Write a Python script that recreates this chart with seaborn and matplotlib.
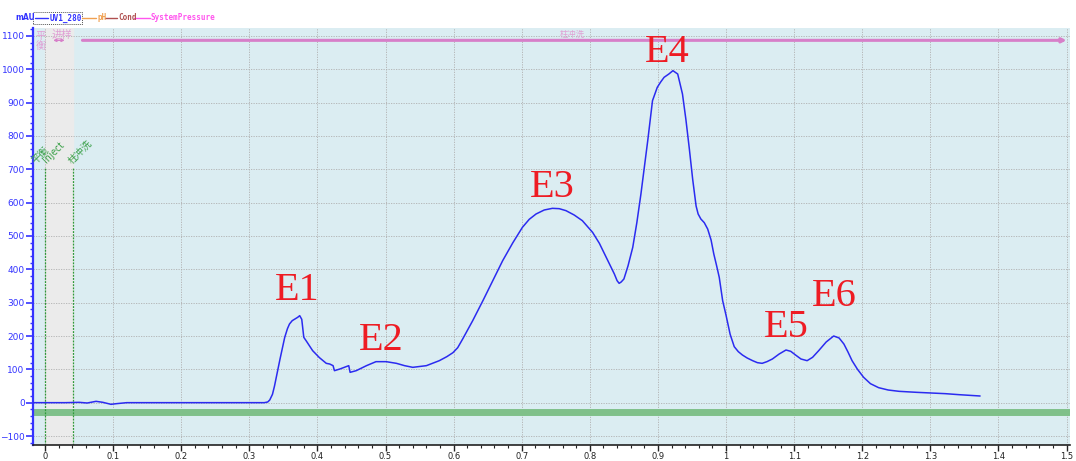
import numpy as np
import pandas as pd
import matplotlib
matplotlib.use("Agg")
import matplotlib.pyplot as plt
from matplotlib.ticker import MultipleLocator
import seaborn as sns

# UV absorbance trace (mAU) against elution volume
volume = [-0.018, 0.0, 0.03, 0.05, 0.062, 0.075, 0.085, 0.097, 0.105, 0.12, 0.2, 0.3,
          0.322, 0.327, 0.330, 0.334, 0.337, 0.341, 0.345, 0.349, 0.352, 0.356, 0.359,
          0.363, 0.367, 0.371, 0.374, 0.377, 0.380, 0.384,
          0.393, 0.403, 0.413, 0.418, 0.423, 0.425, 0.433, 0.442, 0.446, 0.448, 0.457,
          0.472, 0.486, 0.501, 0.516, 0.528, 0.540, 0.560, 0.579, 0.590, 0.599, 0.606,
          0.613, 0.628, 0.643, 0.658, 0.672, 0.687,
          0.701, 0.711, 0.721, 0.733, 0.745, 0.755, 0.765, 0.777, 0.789, 0.804, 0.814,
          0.824, 0.836, 0.840, 0.843, 0.846, 0.850, 0.856, 0.863, 0.869,
          0.875, 0.880, 0.885, 0.892, 0.899, 0.904, 0.909, 0.916, 0.922, 0.929, 0.936,
          0.941, 0.946, 0.951, 0.956, 0.959, 0.963, 0.968, 0.973, 0.978, 0.982, 0.986,
          0.990, 0.995, 1.000, 1.006, 1.012, 1.018, 1.024, 1.031, 1.039, 1.046, 1.053,
          1.060, 1.068, 1.078, 1.088, 1.095, 1.102, 1.110, 1.119, 1.127, 1.136, 1.147,
          1.158, 1.166, 1.173, 1.179, 1.185, 1.193, 1.202, 1.212, 1.224, 1.238, 1.254,
          1.280, 1.302, 1.322, 1.342, 1.373]
uv280 = [0, 0, 0, 1, -1, 4, 1, -5, -3, 0, 0, 0,
         0, 2, 8, 25, 50, 90, 130, 168, 196, 222, 236,
         246, 251, 256, 261, 250, 196, 184,
         156, 135, 118, 116, 111, 96, 101, 108, 111, 91, 96,
         111, 123, 123, 118, 111, 106, 111, 126, 138, 150, 165,
         190, 246, 306, 368, 426, 480,
         526, 550, 566, 578, 583, 582, 576, 563, 546, 511, 478,
         436, 386, 366, 358, 362, 371, 410, 466, 540,
         626, 706, 786, 906, 946, 962, 976, 986, 996, 986, 926,
         850, 763, 670, 590, 566, 551, 540, 521, 488, 446, 412,
         376, 306, 262, 205, 168, 153, 143, 134, 126, 120, 118,
         123, 131, 146, 158, 154, 143, 131, 126, 136, 156, 182,
         200, 194, 176, 152, 126, 100, 76, 57, 45, 38, 34,
         31, 29, 27, 24, 20]

# Fraction labels and where they sit
peak_names = ["E1", "E2", "E3", "E4", "E5", "E6"]
peak_x = [0.370, 0.493, 0.745, 0.913, 1.088, 1.159]
peak_y = [335, 185, 645, 1050, 225, 320]

# Run-log events
event_names = ["平衡", "Inject", "柱冲洗"]
event_x = [-0.012, 0.004, 0.042]
event_lines = [0.0, 0.041]

x_ticks = [0, 0.1, 0.2, 0.3, 0.4, 0.5, 0.6, 0.7, 0.8, 0.9, 1, 1.1, 1.2, 1.3, 1.4, 1.5]
x_tick_labels = ["0", "0.1", "0.2", "0.3", "0.4", "0.5", "0.6", "0.7", "0.8", "0.9",
                 "1", "1.1", "1.2", "1.3", "1.4", "1.5"]
y_ticks = list(range(-100, 1101, 100))

df = pd.DataFrame({"volume": volume, "mAU": uv280})

sns.set_theme(style="white")
plt.rcParams["font.family"] = ["DejaVu Sans", "Noto Sans CJK SC"]

fig = plt.figure(figsize=(10.76, 4.61), dpi=100)
ax = fig.add_axes([33 / 1076, 1 - 445 / 461, (1070 - 33) / 1076, (445 - 28) / 461])
ax.set_facecolor("#dbedf2")
ax.set_xlim(-0.0176, 1.505)
ax.set_ylim(-127, 1124)

# injection zone shading
ax.axvspan(0.0, 0.041, color="#ebebeb", zorder=0)

# grid
for t in x_ticks:
    ax.axvline(t, color="#b0b0b0", lw=0.6, ls=(0, (1.5, 1.5)), zorder=0.5)
for t in y_ticks:
    ax.axhline(t, color="#b0b0b0", lw=0.6, ls=(0, (1.5, 1.5)), zorder=0.5)

# system pressure trace (flat)
ax.axhline(-28, color="#7fc08a", lw=5, zorder=1)

sns.lineplot(data=df, x="volume", y="mAU", ax=ax, color="#2b2bf0", lw=1.1,
             sort=False, estimator=None, zorder=3)

# event markers
for xv in event_lines:
    ax.plot([xv, xv], [-127, 705], color="#2e9a3a", lw=0.9, ls=(0, (1.5, 1)), zorder=2)
for name, xv in zip(event_names, event_x):
    ax.text(xv, 712, name, rotation=45, rotation_mode="anchor", ha="left", va="bottom",
            fontsize=7, color="#3aa048",
            family=["Noto Sans CJK SC", "DejaVu Sans"], zorder=4)

# fraction / phase bar at the top
pink = "#d77fc9"
ax.annotate("", xy=(1.5, 1087), xytext=(0.055, 1087),
            arrowprops=dict(arrowstyle="-|>", color=pink, lw=2.2, mutation_scale=6,
                            shrinkA=0, shrinkB=0), zorder=3)
ax.annotate("", xy=(0.029, 1087), xytext=(0.012, 1087),
            arrowprops=dict(arrowstyle="<->", color=pink, lw=1.0, mutation_scale=4,
                            shrinkA=0, shrinkB=0), zorder=3)
cjk = ["Noto Sans CJK SC", "DejaVu Sans"]
ax.text(-0.014, 1100, "平", fontsize=7.5, color="#e0a0d4", family=cjk, va="center")
ax.text(-0.014, 1070, "衡", fontsize=7.5, color="#e0a0d4", family=cjk, va="center")
ax.text(0.010, 1102, "进样", fontsize=7.5, color="#e0a0d4", family=cjk, va="center")
ax.text(0.775, 1104, "柱冲洗", fontsize=6, color="#e0a0d4", family=cjk, va="center",
        ha="center")

# peak labels
for name, xv, yv in zip(peak_names, peak_x, peak_y):
    ax.text(xv, yv, name, fontsize=29, color="#ee1c24", family="Liberation Serif",
            ha="center", va="center", zorder=5)

# axes styling
ax.set_xticks(x_ticks)
ax.set_xticklabels(x_tick_labels)
ax.set_yticks(y_ticks)
ax.xaxis.set_minor_locator(MultipleLocator(0.02))
ax.yaxis.set_minor_locator(MultipleLocator(20))
ax.tick_params(axis="x", which="major", length=4, width=1, color="#222222",
               labelsize=6, labelcolor="#222222", direction="out", bottom=True, pad=1)
ax.tick_params(axis="x", which="minor", length=2.5, width=0.8, color="#222222",
               direction="out", bottom=True)
ax.tick_params(axis="y", which="major", length=5, width=1.2, color="#3333ff",
               labelsize=6.5, labelcolor="#3333ff", direction="out", left=True, pad=1)
ax.tick_params(axis="y", which="minor", length=2.5, width=1, color="#3333ff",
               direction="out", left=True)
for side in ["top", "right"]:
    ax.spines[side].set_visible(False)
ax.spines["left"].set_color("#3333ff")
ax.spines["left"].set_linewidth(1.6)
ax.spines["bottom"].set_color("#222222")
ax.spines["bottom"].set_linewidth(1.2)
ax.set_xlabel("")
ax.set_ylabel("")

# curve legend along the top
ly = 1 - 18 / 461
def fx(px):
    return px / 1076
fig.text(fx(15), ly, "mAU", fontsize=5.5, color="#3333ff", weight="bold", va="center")
fig.patches.append(plt.Rectangle((fx(33), 1 - 24 / 461), fx(49), 12 / 461,
                                 transform=fig.transFigure, fill=False,
                                 ec="#555555", lw=0.7, ls=(0, (1, 1))))
legend_items = [("UV1_280", "#3333ff", 35, 48, 50),
                ("pH", "#f0a050", 82, 96, 97),
                ("Cond", "#b05050", 105, 117, 118),
                ("SystemPressure", "#ff55ee", 134, 150, 151)]
for label, col, x0, x1, xt in legend_items:
    fig.add_artist(plt.Line2D([fx(x0), fx(x1)], [ly, ly], color=col, lw=1.0,
                              transform=fig.transFigure))
    fig.text(fx(xt), ly, label, fontsize=5.5, color=col, weight="bold", va="center",
             family="DejaVu Sans Mono")

fig.savefig("out.png", dpi=100)
